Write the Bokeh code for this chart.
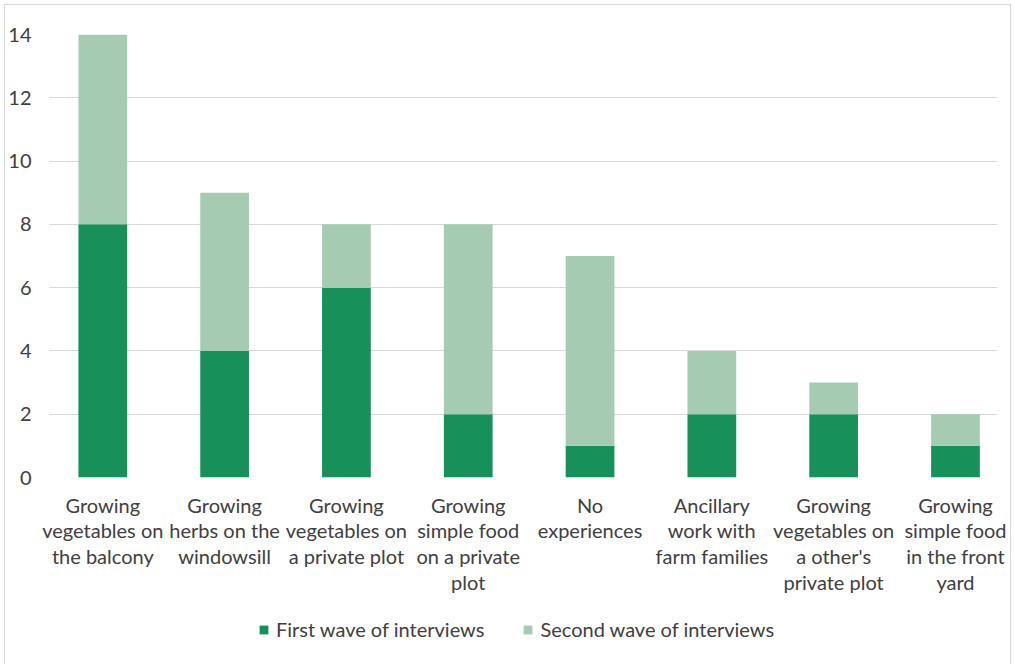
from bokeh.plotting import figure
from bokeh.layouts import column
from bokeh.models import Range1d, FixedTicker, Legend, LegendItem
from bokeh.core.properties import value
from bokeh.embed import file_html
from bokeh.resources import INLINE

# Survey results: number of respondents per prior experience, by interview wave
categories = [
    "Growing\nvegetables on\nthe balcony",
    "Growing\nherbs on the\nwindowsill",
    "Growing\nvegetables on\na private plot",
    "Growing\nsimple food\non a private\nplot",
    "No\nexperiences",
    "Ancillary\nwork with\nfarm families",
    "Growing\nvegetables on\na other's\nprivate plot",
    "Growing\nsimple food\nin the front\nyard",
]
first_wave = [8, 4, 6, 2, 1, 2, 2, 1]
second_wave = [6, 5, 2, 6, 6, 2, 1, 1]
y_ticks = [0, 2, 4, 6, 8, 10, 12, 14]
series_names = ["First wave of interviews", "Second wave of interviews"]

DARK = "#17905a"
LIGHT = "#a6cbb3"
TEXT = "#404040"
GRID = "#d9d9d9"
FONT = "Lato"
SIZE = "20px"

positions = list(range(len(categories)))
source = dict(x=positions, first=first_wave, second=second_wave)

FRAME_W, PAD_L, PAD_R = 948, 44, 13
x_start, x_end = -0.4376, len(categories) - 0.655
px_per_unit = FRAME_W / (x_end - x_start)

# --- main chart: stacked bars -------------------------------------------
p = figure(
    frame_width=FRAME_W, frame_height=443,
    x_range=Range1d(x_start, x_end), y_range=Range1d(0, 14),
    output_backend="svg", toolbar_location=None,
    min_border_left=PAD_L, min_border_right=PAD_R, min_border_top=29, min_border_bottom=12,
)
p.outline_line_color = None
p.border_fill_color = "white"

p.vbar_stack(
    ["first", "second"], x="x", width=0.4, source=source,
    color=[DARK, LIGHT], line_width=0,
)

p.yaxis.ticker = FixedTicker(ticks=y_ticks)
p.yaxis.axis_line_color = None
p.yaxis.major_tick_line_color = None
p.yaxis.minor_tick_line_color = None
p.yaxis.major_label_text_font = FONT
p.yaxis.major_label_text_font_size = SIZE
p.yaxis.major_label_text_color = TEXT
p.yaxis.major_label_standoff = 12

p.xaxis.visible = False
p.xgrid.grid_line_color = None
p.ygrid.grid_line_color = GRID
p.ygrid.grid_line_width = 1

# --- lower strip: category names and legend -----------------------------
# same horizontal scale as the chart, but spanning the full width
strip_w = PAD_L + FRAME_W + PAD_R
strip_h = 180
q = figure(
    frame_width=strip_w, frame_height=strip_h,
    x_range=Range1d(x_start - PAD_L / px_per_unit, x_end + PAD_R / px_per_unit),
    y_range=Range1d(0, strip_h),
    output_backend="svg", toolbar_location=None,
    min_border_left=0, min_border_right=0, min_border_top=0, min_border_bottom=0,
)
q.axis.visible = False
q.grid.grid_line_color = None
q.outline_line_color = None
q.border_fill_color = "white"
q.background_fill_color = "white"

# the two figures have different frames, so keep them from being lined up
for fig in (p, q):
    if "frame_align" in fig.properties():
        fig.frame_align = False

q.text(
    x=positions, y=strip_h - 3, text=categories,
    text_font=value(FONT), text_font_size=SIZE, text_color=TEXT,
    text_align="center", text_baseline="top", text_line_height=1.08,
)

# legend swatches: one off-screen bar per series so the legend has glyphs
swatches = [
    q.vbar(x=[x_start - 10], top=[0], width=0.4, color=c, line_width=0)
    for c in (DARK, LIGHT)
]
legend = Legend(
    items=[LegendItem(label=n, renderers=[r]) for n, r in zip(series_names, swatches)],
    orientation="horizontal", location=(253, 28),
    label_text_font=FONT, label_text_font_size=SIZE, label_text_color=TEXT,
    glyph_width=11, glyph_height=11, label_standoff=7, spacing=38,
    border_line_color=None, background_fill_alpha=0, margin=0, padding=4,
)
q.add_layout(legend)

page = column(p, q, spacing=0)
page.margin = (4, 5, 0, 4)
page.styles = {"border": f"1px solid {GRID}", "background": "white"}

open("out.html", "w").write(file_html(page, INLINE))
